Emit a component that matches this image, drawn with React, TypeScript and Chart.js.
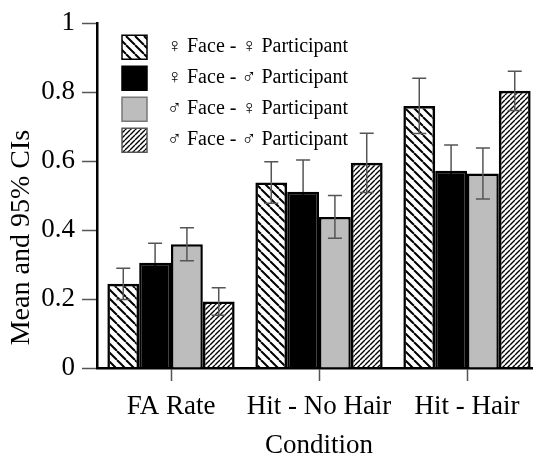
import React, { useEffect, useRef } from 'react';
import { Chart, registerables } from 'chart.js';

Chart.register(...registerables);

const categories = ['FA Rate', 'Hit - No Hair', 'Hit - Hair'];
const seriesLabels = [
  '♀ Face - ♀ Participant',
  '♀ Face - ♂ Participant',
  '♂ Face - ♀ Participant',
  '♂ Face - ♂ Participant',
];
// means
const femFaceFemPart = [0.244, 0.538, 0.76];
const femFaceMalePart = [0.305, 0.511, 0.572];
const maleFaceFemPart = [0.359, 0.438, 0.564];
const maleFaceMalePart = [0.193, 0.595, 0.804];
// 95% CI half-widths
const femFaceFemPartCI = [0.045, 0.06, 0.08];
const femFaceMalePartCI = [0.057, 0.092, 0.075];
const maleFaceFemPartCI = [0.048, 0.062, 0.074];
const maleFaceMalePartCI = [0.04, 0.086, 0.057];

const yMin = 0;
const yMax = 1;
const yStep = 0.2;
const yTickLabels = ['0', '0.2', '0.4', '0.6', '0.8', '1'];

const SERIF = "'Liberation Serif', 'Times New Roman', serif";

function makeHatch(size: number, lw: number, dir: 'back' | 'fwd') {
  const c = document.createElement('canvas');
  c.width = size;
  c.height = size;
  const g = c.getContext('2d')!;
  g.strokeStyle = '#000';
  g.lineWidth = lw;
  g.beginPath();
  for (const o of [-size, 0, size]) {
    if (dir === 'back') {
      g.moveTo(o, 0);
      g.lineTo(o + size, size);
    } else {
      g.moveTo(o, size);
      g.lineTo(o + size, 0);
    }
  }
  g.stroke();
  return g.createPattern(c, 'repeat')!;
}

export default function App() {
  const ref = useRef<HTMLCanvasElement | null>(null);

  useEffect(() => {
    const canvas = ref.current!;
    const means = [femFaceFemPart, femFaceMalePart, maleFaceFemPart, maleFaceMalePart];
    const cis = [femFaceFemPartCI, femFaceMalePartCI, maleFaceFemPartCI, maleFaceMalePartCI];
    const lowerColors = ['#555', '#000', '#555', '#555'];
    const fills: any[] = [
      makeHatch(9, 2, 'back'),
      '#000000',
      '#bdbdbd',
      makeHatch(5, 1.4, 'fwd'),
    ];
    const legendStroke = ['#000', '#000', '#777', '#555'];

    const errorBars = {
      id: 'errorBars',
      afterDatasetsDraw(chart: any) {
        const ctx = chart.ctx;
        const ys = chart.scales.y;
        chart.data.datasets.forEach((_ds: any, i: number) => {
          const meta = chart.getDatasetMeta(i);
          meta.data.forEach((bar: any, j: number) => {
            const m = means[i][j];
            const c = cis[i][j];
            const x = bar.x;
            const yt = ys.getPixelForValue(m + c);
            const yb = ys.getPixelForValue(m - c);
            const ym = ys.getPixelForValue(m);
            ctx.save();
            ctx.lineWidth = 1.5;
            ctx.strokeStyle = '#555';
            ctx.beginPath();
            ctx.moveTo(x, yt);
            ctx.lineTo(x, ym);
            ctx.moveTo(x - 7, yt);
            ctx.lineTo(x + 7, yt);
            ctx.stroke();
            ctx.strokeStyle = lowerColors[i];
            ctx.beginPath();
            ctx.moveTo(x, ym);
            ctx.lineTo(x, yb);
            ctx.moveTo(x - 7, yb);
            ctx.lineTo(x + 7, yb);
            ctx.stroke();
            ctx.restore();
          });
        });
      },
    };

    const legendShift = {
      id: 'legendShift',
      afterLayout(chart: any) {
        const l = chart.legend;
        if (l) {
          l.left = chart.chartArea.left + 18;
          l.top = chart.chartArea.top + 5;
        }
      },
    };

    const chart = new Chart(canvas, {
      type: 'bar',
      data: {
        labels: categories,
        datasets: means.map((d, i) => ({
          label: seriesLabels[i],
          data: d,
          backgroundColor: fills[i],
          borderColor: '#000',
          borderWidth: 2.5,
          categoryPercentage: 0.86,
          barPercentage: 1,
        })),
      },
      options: {
        responsive: false,
        animation: false,
        layout: { padding: { left: 0, top: 20, right: 4, bottom: 0 } },
        plugins: {
          tooltip: { enabled: false },
          legend: {
            position: 'chartArea' as any,
            align: 'start',
            labels: {
              color: '#000',
              font: { family: SERIF, size: 20 },
              boxWidth: 25,
              boxHeight: 24,
              padding: 7,
              generateLabels: (ch: any) => {
                const items = (Chart.defaults.plugins.legend.labels as any).generateLabels(ch);
                return items.map((it: any, i: number) => ({
                  ...it,
                  text: '  ' + it.text,
                  lineWidth: 1.5,
                  strokeStyle: legendStroke[i],
                }));
              },
            },
          },
        },
        scales: {
          x: {
            afterFit: (s: any) => {
              s.height = 462 - 368;
            },
            grid: {
              offset: false,
              drawOnChartArea: false,
              drawTicks: true,
              tickLength: 13,
              tickColor: '#555',
              tickWidth: 1.5,
            },
            border: { display: true, color: '#000', width: 2.5 },
            ticks: {
              color: '#000',
              font: { family: SERIF, size: 27 },
              padding: 10,
              maxRotation: 0,
              minRotation: 0,
              autoSkip: false,
            },
            title: {
              display: true,
              text: 'Condition',
              color: '#000',
              font: { family: SERIF, size: 27 },
              padding: { top: 0, bottom: 0 },
            },
          },
          y: {
            min: yMin,
            max: yMax,
            afterFit: (s: any) => {
              s.width = 97;
            },
            ticks: {
              stepSize: yStep,
              color: '#000',
              font: { family: SERIF, size: 27 },
              padding: 7,
              callback: (_v: any, i: number) => yTickLabels[i],
            },
            grid: {
              drawOnChartArea: false,
              drawTicks: true,
              tickLength: 15,
              tickColor: '#555',
              tickWidth: 1.5,
            },
            border: { display: true, color: '#000', width: 2.5 },
            title: {
              display: true,
              text: 'Mean and 95% CIs            ',
              color: '#000',
              font: { family: SERIF, size: 28 },
              padding: { top: 5, bottom: 0 },
            },
          },
        },
      },
      plugins: [errorBars, legendShift],
    });
    return () => chart.destroy();
  }, []);

  return (
    <div
      style={{
        position: 'absolute',
        left: 0,
        top: 0,
        width: 533,
        height: 454,
        overflow: 'hidden',
        background: '#fff',
      }}
    >
      <canvas ref={ref} width={545} height={462} style={{ width: 545, height: 462, display: 'block' }} />
    </div>
  );
}
